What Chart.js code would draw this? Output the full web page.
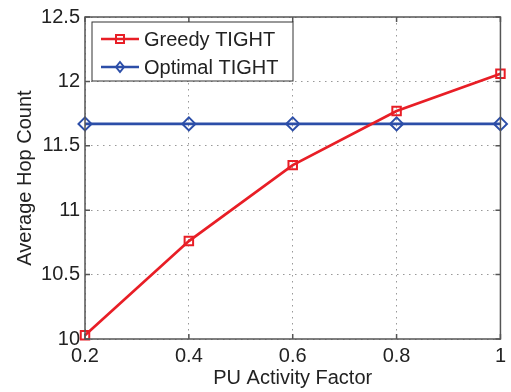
<!DOCTYPE html>
<html>
<head>
<meta charset="utf-8">
<script src="https://cdn.jsdelivr.net/npm/chart.js@4.4.1/dist/chart.umd.min.js"></script>
<style>
  html, body { margin: 0; padding: 0; background: #fff; }
  #wrap { width: 511px; height: 392px; }
</style>
</head>
<body>
<div id="wrap"><canvas id="hopChart" width="511" height="392"></canvas></div>
<script>
// activity factor on x, average hop count on y
const activity = [0.2, 0.4, 0.6, 0.8, 1.0];
const greedyHops = [10.03, 10.76, 11.35, 11.77, 12.06];
const optimalHops = [11.67, 11.67, 11.67, 11.67, 11.67];
const xTicks = [0.2, 0.4, 0.6, 0.8, 1];
const yTicks = [10, 10.5, 11, 11.5, 12, 12.5];

const RED = 'rgb(232,30,38)';
const BLUE = 'rgb(44,78,168)';
const AXIS = '#555';
const FONT = "'Liberation Sans', Arial, sans-serif";

const ctx = document.getElementById('hopChart').getContext('2d');

// box around the axes plus small inward tick marks on all four sides
const framePlugin = {
  id: 'frame',
  afterDatasetsDraw(chart) {
    const { ctx, chartArea: a, scales } = chart;
    ctx.save();
    ctx.strokeStyle = AXIS;
    ctx.lineWidth = 1.5;
    ctx.strokeRect(a.left, a.top, a.right - a.left, a.bottom - a.top);
    const len = 5;
    ctx.beginPath();
    xTicks.forEach(v => {
      const x = scales.x.getPixelForValue(v);
      ctx.moveTo(x, a.bottom); ctx.lineTo(x, a.bottom - len);
      ctx.moveTo(x, a.top); ctx.lineTo(x, a.top + len);
    });
    yTicks.forEach(v => {
      const y = scales.y.getPixelForValue(v);
      ctx.moveTo(a.left, y); ctx.lineTo(a.left + len, y);
      ctx.moveTo(a.right, y); ctx.lineTo(a.right - len, y);
    });
    ctx.stroke();
    ctx.restore();
  }
};

// legend box in the upper left corner, line + marker samples
const legendBox = {
  id: 'legendBox',
  afterDraw(chart) {
    const { ctx, chartArea: a } = chart;
    const x0 = a.left + 7, y0 = a.top + 5, w = 201, h = 59;
    ctx.save();
    ctx.fillStyle = '#fff';
    ctx.fillRect(x0, y0, w, h);
    ctx.strokeStyle = '#333';
    ctx.lineWidth = 1;
    ctx.strokeRect(x0, y0, w, h);
    chart.data.datasets.forEach((ds, i) => {
      const cy = y0 + 17 + i * 28;
      ctx.strokeStyle = ds.borderColor;
      ctx.lineWidth = 2.5;
      ctx.beginPath();
      ctx.moveTo(x0 + 9, cy);
      ctx.lineTo(x0 + 47, cy);
      ctx.stroke();
      const mx = x0 + 28;
      ctx.lineWidth = 2;
      ctx.beginPath();
      if (ds.pointStyle === 'rect') {
        ctx.rect(mx - 4, cy - 4, 8, 8);
      } else {
        ctx.moveTo(mx, cy - 5); ctx.lineTo(mx + 4, cy);
        ctx.lineTo(mx, cy + 5); ctx.lineTo(mx - 4, cy);
        ctx.closePath();
      }
      ctx.stroke();
      ctx.fillStyle = '#222';
      ctx.font = '20px ' + FONT;
      ctx.textBaseline = 'middle';
      ctx.fillText(ds.label, x0 + 52, cy + 1);
    });
    ctx.restore();
  }
};

const data = {
  datasets: [
    {
      label: 'Greedy TIGHT',
      data: activity.map((x, i) => ({ x: x, y: greedyHops[i] })),
      borderColor: RED,
      backgroundColor: 'transparent',
      borderWidth: 2.7,
      pointStyle: 'rect',
      pointRadius: 6,
      pointBorderWidth: 2,
      pointBorderColor: RED,
      pointBackgroundColor: 'transparent',
      tension: 0,
      clip: false
    },
    {
      label: 'Optimal TIGHT',
      data: activity.map((x, i) => ({ x: x, y: optimalHops[i] })),
      borderColor: BLUE,
      backgroundColor: 'transparent',
      borderWidth: 2.7,
      pointStyle: 'rectRot',
      pointRadius: 6.5,
      pointBorderWidth: 2,
      pointBorderColor: BLUE,
      pointBackgroundColor: 'transparent',
      tension: 0,
      clip: false
    }
  ]
};

const config = {
  type: 'line',
  data: data,
  options: {
    responsive: false,
    animation: false,
    layout: { padding: { top: 12, right: 9, left: 0, bottom: 0 } },
    plugins: { legend: { display: false }, tooltip: { enabled: false } },
    scales: {
      x: {
        type: 'linear',
        min: 0.2,
        max: 1,
        afterFit: s => { s.height = 53; },
        afterBuildTicks: s => { s.ticks = xTicks.map(v => ({ value: v })); },
        ticks: {
          color: '#222',
          font: { family: FONT, size: 20, lineHeight: 1.2 },
          padding: 5,
          maxRotation: 0,
          callback: v => String(v)
        },
        grid: { color: '#999', lineWidth: 1, drawTicks: false },
        border: { display: false, dash: [1.5, 4.5] },
        title: {
          display: true,
          text: 'PU Activity Factor',
          color: '#222',
          font: { family: FONT, size: 20, lineHeight: 1.2 },
          padding: { top: 0, bottom: 2 }
        }
      },
      y: {
        min: 10,
        max: 12.5,
        afterFit: s => { s.width = 85; },
        afterBuildTicks: s => { s.ticks = yTicks.map(v => ({ value: v })); },
        ticks: {
          color: '#222',
          font: { family: FONT, size: 20, lineHeight: 1.2 },
          padding: 5,
          callback: v => String(v)
        },
        grid: { color: '#999', lineWidth: 1, drawTicks: false },
        border: { display: false, dash: [1.5, 4.5] },
        title: {
          display: true,
          text: 'Average Hop Count',
          color: '#222',
          font: { family: FONT, size: 20, lineHeight: 1.2 },
          padding: { top: 13, bottom: 0 }
        }
      }
    }
  },
  plugins: [framePlugin, legendBox]
};

const hopChart = new Chart(ctx, config);
</script>
</body>
</html>
